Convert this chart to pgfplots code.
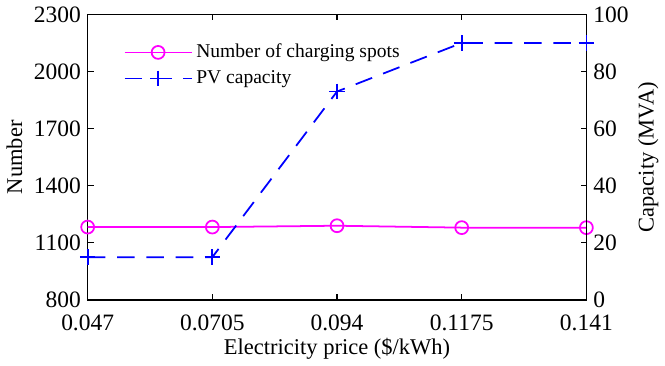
\documentclass[border=0pt]{standalone}
\usepackage{pgfplots}
\pgfplotsset{compat=1.18}
\usepackage{fontspec}
\setmainfont{Liberation Serif}
\definecolor{mag}{RGB}{255,0,255}
\definecolor{pvblue}{RGB}{0,0,255}
\begin{document}
\begin{tikzpicture}
\pgfplotsset{
  every axis/.append style={font=\fontsize{12}{14}\selectfont},
  every axis label/.append style={font=\fontsize{11.5}{13}\selectfont},
  /pgf/number format/assume math mode=true,
}
\begin{axis}[
  width=255pt, height=146pt, scale only axis,
  xmin=0.047, xmax=0.141, ymin=800, ymax=2300,
  xtick={0.047,0.0705,0.094,0.1175,0.141},
  xticklabels={0.047,0.0705,0.094,0.1175,0.141},
  ytick={800,1100,1400,1700,2000,2300},
  yticklabels={800,1100,1400,1700,2000,2300},
  xtick pos=both, ytick pos=left, tick align=inside,
  major tick length=3pt,
  axis line style={line width=0.8pt},
  every tick/.style={black, line width=0.6pt},
  xticklabel style={yshift=-4pt},
  xlabel={Electricity price (\$/kWh)},
  ylabel={Number},
  xlabel style={yshift=3pt},
  ylabel style={yshift=-1pt},
  legend style={at={(0.06,0.925)}, anchor=north west, draw=none, fill=none,
    row sep=1pt, font=\fontsize{10}{12}\selectfont},
  legend cell align=left,
  legend image code/.code={\draw[mark repeat=2,mark phase=2,#1] plot coordinates {(0cm,0cm)(0.6cm,0cm)(1.2cm,0cm)};},
]
\addplot[mag, line width=0.9pt, mark=o, mark size=3.3pt, mark options={solid}] coordinates {
  (0.047,1183) (0.0705,1183) (0.094,1190) (0.1175,1180) (0.141,1180)};
\addlegendentry{Number of charging spots}
\addlegendimage{pvblue, line width=0.9pt, dash pattern=on 9pt off 6pt, mark=+, mark size=4pt, mark options={solid}}
\addlegendentry{PV capacity}
\end{axis}
\begin{axis}[
  width=255pt, height=146pt, scale only axis,
  xmin=0.047, xmax=0.141, ymin=0, ymax=100,
  axis x line=none, axis y line*=right,
  ytick={0,20,40,60,80,100},
  yticklabels={0,20,40,60,80,100},
  tick align=inside, major tick length=3pt,
  axis line style={line width=0.8pt, -},
  every tick/.style={black, line width=0.6pt},
  ylabel={Capacity (MVA)},
  ylabel style={yshift=2pt},
]
\addplot[pvblue, line width=0.9pt, dash pattern=on 9pt off 6pt, mark=+, mark size=4pt, mark options={solid}] coordinates {
  (0.047,15) (0.0705,15) (0.094,73) (0.1175,90) (0.141,90)};
\end{axis}
\end{tikzpicture}
\end{document}
